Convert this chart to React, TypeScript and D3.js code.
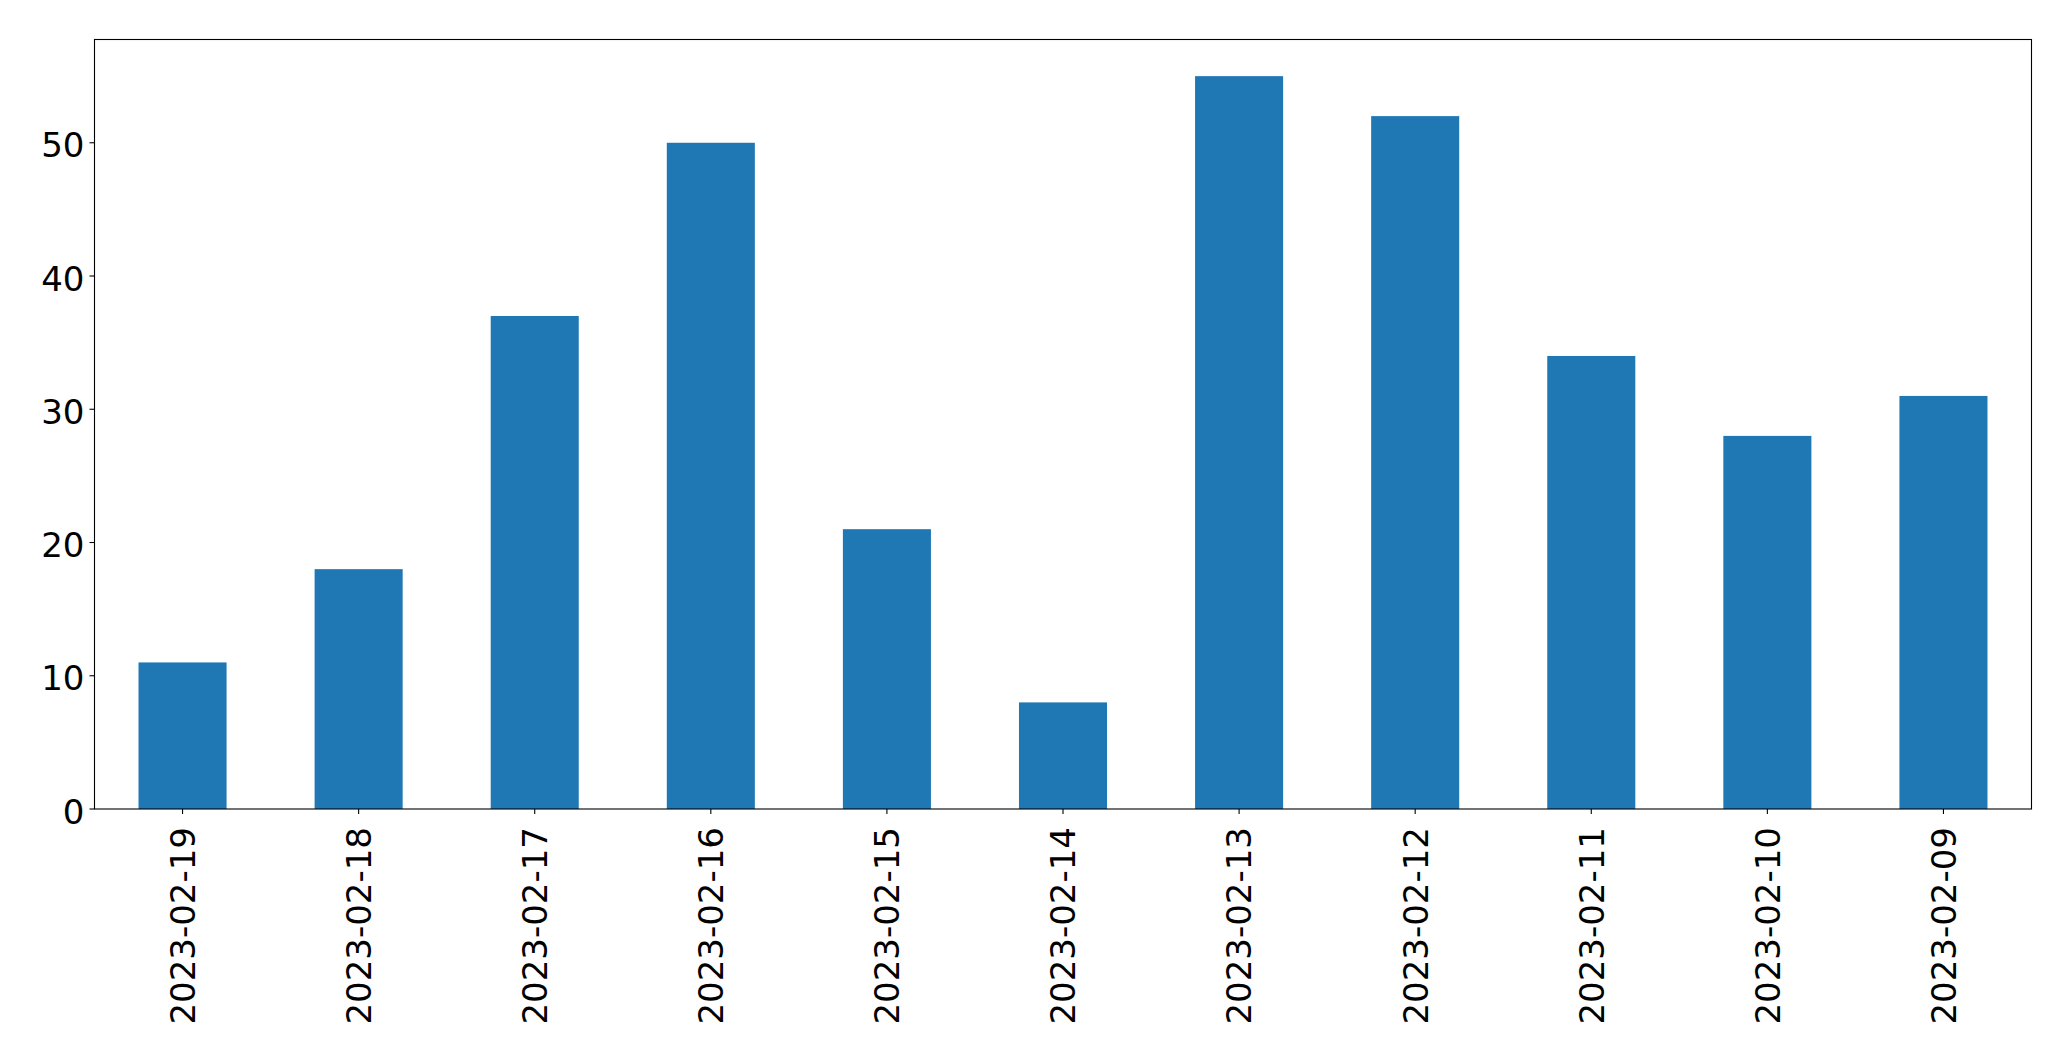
import { useEffect, useRef } from 'react';
import * as d3 from 'd3';

const dates = [
  '2023-02-19', '2023-02-18', '2023-02-17', '2023-02-16', '2023-02-15', '2023-02-14',
  '2023-02-13', '2023-02-12', '2023-02-11', '2023-02-10', '2023-02-09',
];
const counts = [11, 18, 37, 50, 21, 8, 55, 52, 34, 28, 31];
const yTicks = [0, 10, 20, 30, 40, 50];

const WIDTH = 2071;
const HEIGHT = 1061;
const FONT = '"DejaVu Sans", sans-serif';

export default function App() {
  const svgRef = useRef<SVGSVGElement>(null);

  useEffect(() => {
    if (!svgRef.current) return;
    const svg = d3.select(svgRef.current);
    svg.selectAll('*').remove();

    const left = 94.5;
    const right = 2031.5;
    const top = 39.5;
    const bottom = 809;

    // matplotlib-style: categories at 0..n-1, xlim [-0.5, n-0.5]
    const x = d3.scaleLinear()
      .domain([-0.5, dates.length - 0.5])
      .range([left, right]);
    const y = d3.scaleLinear()
      .domain([0, d3.max(counts)! * 1.05])
      .range([bottom, top]);

    const barW = x(0.25) - x(-0.25);

    svg.append('rect')
      .attr('width', WIDTH).attr('height', HEIGHT).attr('fill', '#fff');

    svg.selectAll('.bar')
      .data(counts)
      .enter()
      .append('rect')
      .attr('x', (_d, i) => x(i) - barW / 2)
      .attr('y', (d) => y(d))
      .attr('width', barW)
      .attr('height', (d) => y(0) - y(d))
      .attr('fill', '#1f77b4');

    // frame
    svg.append('rect')
      .attr('x', left).attr('y', top)
      .attr('width', right - left).attr('height', bottom - top)
      .attr('fill', 'none').attr('stroke', '#000').attr('stroke-width', 1.1);

    // y ticks
    yTicks.forEach((t) => {
      const ty = y(t);
      svg.append('line')
        .attr('x1', left - 5).attr('x2', left)
        .attr('y1', ty).attr('y2', ty)
        .attr('stroke', '#000').attr('stroke-width', 1.1);
      svg.append('text')
        .attr('x', left - 10)
        .attr('y', ty + 14.5)
        .attr('text-anchor', 'end')
        .attr('font-family', FONT)
        .attr('font-size', 34)
        .attr('fill', '#000')
        .text(t);
    });

    // x ticks
    dates.forEach((d, i) => {
      const tx = x(i);
      svg.append('line')
        .attr('x1', tx).attr('x2', tx)
        .attr('y1', bottom).attr('y2', bottom + 5)
        .attr('stroke', '#000').attr('stroke-width', 1.1);
      svg.append('text')
        .attr('transform', `translate(${tx + 12.4}, ${bottom + 18}) rotate(-90)`)
        .attr('text-anchor', 'end')
        .attr('font-family', FONT)
        .attr('font-size', 34)
        .attr('fill', '#000')
        .text(d);
    });
  }, []);

  return (
    <div style={{ position: 'absolute', left: 0, top: 0 }}>
      <svg ref={svgRef} width={WIDTH} height={HEIGHT} style={{ display: 'block' }} />
    </div>
  );
}
